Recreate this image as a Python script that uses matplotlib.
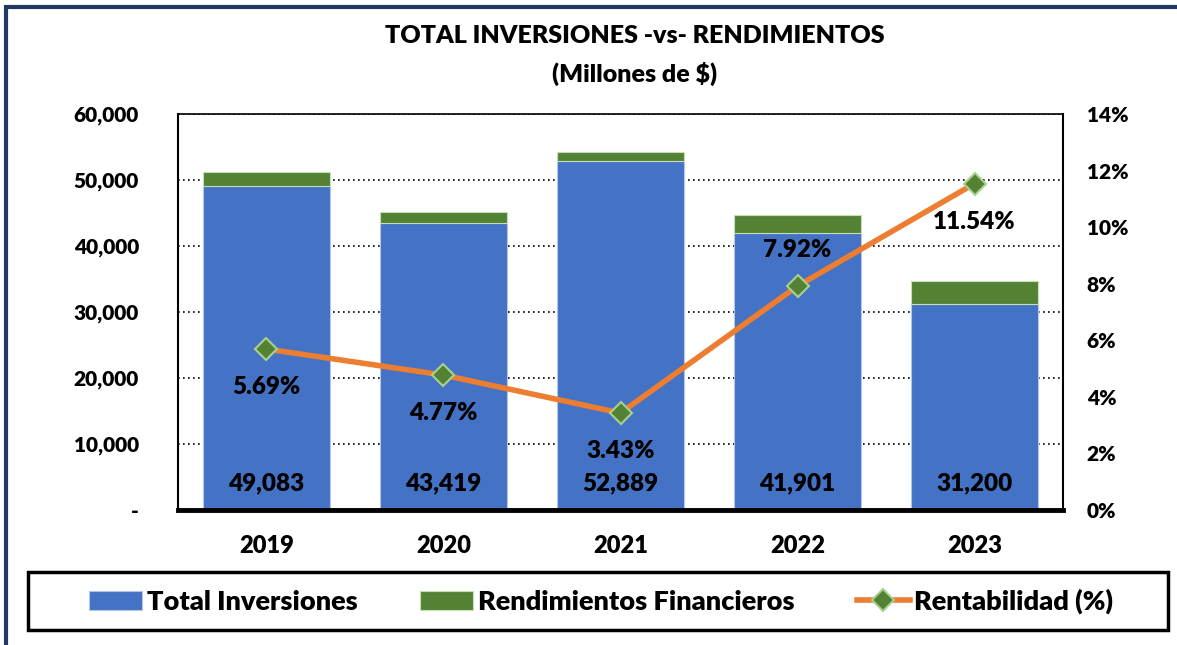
import matplotlib.pyplot as plt
from matplotlib.patches import Rectangle
from matplotlib.ticker import FuncFormatter, MultipleLocator

years = ["2019", "2020", "2021", "2022", "2023"]
inversiones = [49083, 43419, 52889, 41901, 31200]
rendimientos = [2180, 1780, 1400, 2800, 3500]
rentabilidad = [5.69, 4.77, 3.43, 7.92, 11.54]
label_below = [True, True, True, False, True]

plt.rcParams['font.family'] = ['Lato', 'DejaVu Sans']
W = 800  # heavy weight, closest to the bold Calibri look

fig = plt.figure(figsize=(11.77, 6.45), dpi=100)
ax = fig.add_axes([0.1512, 0.2093, 0.752, 0.6140])
ax2 = ax.twinx()

blue = "#4472C4"
green = "#548235"
orange = "#ED7D31"

x = range(len(years))
ax.bar(x, inversiones, width=0.72, color=blue, edgecolor="#B4C7E7", linewidth=0.8,
       zorder=2, label="Total Inversiones")
ax.bar(x, rendimientos, width=0.72, bottom=inversiones, color=green,
       edgecolor="#C5E0B4", linewidth=0.8, zorder=2, label="Rendimientos Financieros")
for i, v in enumerate(inversiones):
    ax.text(i, 4000, f"{v:,}", ha="center", va="center", fontsize=17.5,
            fontweight=W, color="black", zorder=5)

ax.set_xlim(-0.5, len(years) - 0.5)
ax.set_ylim(0, 60000)
ax.yaxis.set_major_locator(MultipleLocator(10000))
ax.yaxis.set_major_formatter(FuncFormatter(lambda v, p: "-" if v == 0 else f"{v:,.0f}"))
ax.grid(axis="y", linestyle=(0, (1, 2)), color="black", linewidth=1.2, zorder=0)
ax.set_axisbelow(True)
ax.set_xticks(list(x))
ax.set_xticklabels(years)
ax.tick_params(axis="x", length=0, labelsize=17, pad=18)
ax.tick_params(axis="y", length=0, labelsize=15, pad=28)
for lbl in ax.get_xticklabels() + ax.get_yticklabels():
    lbl.set_fontweight(W)

ax.spines["bottom"].set_linewidth(3.5)
ax.spines["left"].set_linewidth(1.5)
ax.spines["top"].set_linewidth(1.2)
ax.spines["right"].set_visible(False)

ax2.plot(x, rentabilidad, color=orange, linewidth=4, marker="D", markersize=11,
         markerfacecolor=green, markeredgecolor="#A9D18E", markeredgewidth=1.5,
         zorder=4, label="Rentabilidad (%)")
ax2.set_ylim(0, 14)
ax2.yaxis.set_major_locator(MultipleLocator(2))
ax2.yaxis.set_major_formatter(FuncFormatter(lambda v, p: f"{v:.0f}%"))
ax2.tick_params(axis="y", length=0, labelsize=15, pad=17)
for lbl in ax2.get_yticklabels():
    lbl.set_fontweight(W)
for s in ["top", "left", "bottom"]:
    ax2.spines[s].set_visible(False)
ax2.spines["right"].set_linewidth(1.5)

for i, (r, below) in enumerate(zip(rentabilidad, label_below)):
    ax2.annotate(f"{r:.2f}%", (i, r), xytext=(0, -38 if below else 36),
                 textcoords="offset pixels", ha="center", va="center",
                 fontsize=17.5, fontweight=W, color="black")

fig.text(0.5395, 0.944, "TOTAL INVERSIONES -vs- RENDIMIENTOS", ha="center",
         va="center", fontsize=18, fontweight=W)
fig.text(0.5395, 0.886, "(Millones de $)", ha="center", va="center",
         fontsize=18, fontweight=W)

h1, l1 = ax.get_legend_handles_labels()
h2, l2 = ax2.get_legend_handles_labels()
leg = fig.legend(h1 + h2, l1 + l2, loc="center", bbox_to_anchor=(0.511, 0.0675),
                 ncol=3, frameon=False, handlelength=1.95, handleheight=0.7,
                 handletextpad=0.18, columnspacing=2.3,
                 prop={"weight": W, "size": 19.5})

# legend box and outer frame
fig.patches.append(Rectangle((28 / 1177, 1 - 630 / 645), 1140 / 1177, 58 / 645,
                             transform=fig.transFigure, fill=False,
                             edgecolor="black", linewidth=2.5))
fig.patches.append(Rectangle((6 / 1177, -0.05), 1.2, 1 - 7 / 645 + 0.05,
                             transform=fig.transFigure, fill=False,
                             edgecolor="#1F3864", linewidth=3))

fig.savefig("out.png", dpi=100)
